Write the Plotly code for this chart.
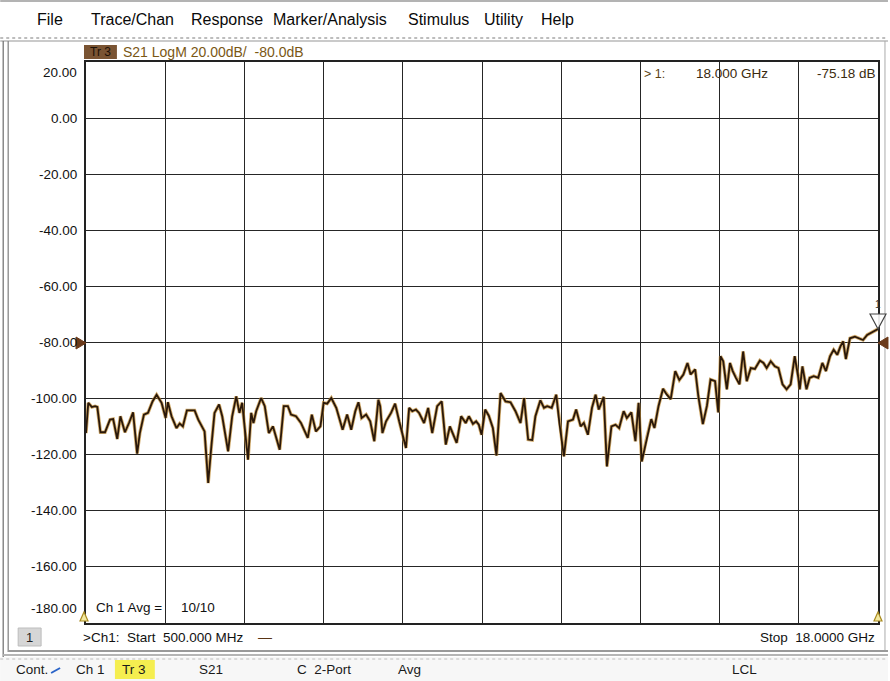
import plotly.graph_objects as go

# ---------------- data ----------------
freq_ghz = [
    0.50, 0.55, 0.63, 0.70, 0.75, 0.82, 0.92, 1.03, 1.10, 1.19, 1.26, 1.36, 1.45, 1.54, 1.63,
    1.69, 1.78, 1.87, 1.97, 2.06, 2.17, 2.26, 2.31, 2.39, 2.50, 2.57, 2.64, 2.73, 2.90, 2.98,
    3.12, 3.20, 3.27, 3.34, 3.44, 3.51, 3.64, 3.73, 3.82, 3.89, 3.95, 4.00, 4.08, 4.15, 4.20,
    4.26, 4.37, 4.45, 4.54, 4.63, 4.74, 4.78, 4.87, 4.96, 5.03, 5.14, 5.25, 5.40, 5.49, 5.58,
    5.68, 5.75, 5.83, 5.92, 6.03, 6.17, 6.27, 6.36, 6.45, 6.52, 6.59, 6.69, 6.78, 6.87, 6.96,
    7.00, 7.05, 7.13, 7.24, 7.33, 7.42, 7.49, 7.57, 7.64, 7.71, 7.79, 7.86, 7.97, 8.06, 8.15,
    8.26, 8.36, 8.45, 8.54, 8.69, 8.79, 8.89, 8.96, 9.05, 9.12, 9.18, 9.24, 9.32, 9.40, 9.49,
    9.57, 9.66, 9.77, 9.88, 9.99, 10.10, 10.18, 10.27, 10.36, 10.43, 10.54, 10.62, 10.69, 10.79, 10.89,
    10.96, 11.06, 11.15, 11.26, 11.33, 11.43, 11.50, 11.59, 11.68, 11.76, 11.83, 11.94, 12.01, 12.11, 12.20,
    12.28, 12.38, 12.45, 12.55, 12.64, 12.71, 12.78, 12.89, 12.99, 13.06, 13.15, 13.25, 13.33, 13.42, 13.52,
    13.61, 13.70, 13.79, 13.86, 13.96, 14.03, 14.13, 14.22, 14.30, 14.40, 14.47, 14.52, 14.58, 14.66, 14.73,
    14.79, 14.86, 14.94, 15.02, 15.10, 15.19, 15.28, 15.39, 15.47, 15.54, 15.63, 15.72, 15.80, 15.89, 15.98,
    16.07, 16.16, 16.24, 16.27, 16.33, 16.42, 16.49, 16.58, 16.68, 16.77, 16.85, 16.94, 17.02, 17.10, 17.17,
    17.23, 17.29, 17.38, 17.49, 17.58, 17.67, 17.76, 17.85, 17.96, 18.00,
]
s21_db = [
    -112.3, -101.5, -103.0, -102.7, -103.0, -112.0, -112.0, -107.5, -107.3, -114.4, -106.3, -112.0, -108.7, -104.9, -119.6,
    -112.3, -105.7, -105.1, -101.0, -98.6, -101.5, -106.9, -101.3, -106.3, -110.5, -108.9, -109.9, -104.2, -104.2, -107.5,
    -111.7, -130.1, -117.0, -105.1, -102.1, -106.3, -118.8, -106.3, -99.2, -105.1, -101.5, -108.7, -121.8, -105.1, -108.7,
    -104.5, -99.8, -102.7, -112.3, -109.9, -116.4, -118.2, -102.7, -102.7, -105.7, -106.3, -108.7, -114.0, -105.7, -111.7,
    -109.9, -101.5, -101.8, -99.8, -103.3, -111.1, -105.7, -111.1, -104.5, -101.3, -106.9, -105.7, -108.1, -115.2, -100.4,
    -102.7, -112.3, -108.1, -105.1, -101.8, -108.1, -112.3, -117.6, -103.3, -104.5, -103.9, -105.1, -108.7, -103.3, -112.3,
    -102.7, -101.0, -116.4, -109.9, -115.8, -106.3, -108.7, -106.3, -109.0, -108.1, -109.3, -112.9, -103.9, -106.1, -110.5,
    -120.3, -98.0, -101.0, -101.3, -104.5, -108.7, -99.8, -114.6, -114.8, -106.3, -100.6, -103.3, -102.7, -103.3, -98.6,
    -108.7, -120.6, -108.1, -107.5, -103.9, -109.9, -108.7, -112.9, -103.3, -98.6, -103.9, -99.4, -124.2, -109.9, -109.3,
    -110.5, -104.5, -106.9, -104.9, -115.2, -101.5, -122.4, -114.0, -107.3, -110.5, -102.7, -96.5, -98.5, -100.2, -90.2,
    -93.4, -91.4, -87.3, -91.4, -89.6, -99.1, -109.1, -102.6, -93.2, -93.8, -104.9, -84.9, -86.7, -96.7, -87.3,
    -90.2, -92.6, -94.9, -83.2, -93.8, -89.1, -89.4, -86.4, -87.3, -89.1, -86.7, -88.5, -89.1, -94.9, -96.7,
    -94.9, -84.9, -92.6, -96.7, -88.5, -96.7, -92.6, -92.0, -92.6, -87.3, -90.2, -84.9, -82.6, -84.4, -81.4,
    -79.6, -85.9, -78.5, -77.9, -78.5, -79.1, -77.3, -76.5, -75.5, -75.18,
]

ytick_vals = [20, 0, -20, -40, -60, -80, -100, -120, -140, -160, -180]
ytick_text = ["20.00", "0.00", "-20.00", "-40.00", "-60.00", "-80.00",
              "-100.00", "-120.00", "-140.00", "-160.00", "-180.00"]

menu_items = ["File", "Trace/Chan", "Response", "Marker/Analysis", "Stimulus", "Utility", "Help"]
status_items = ["Cont.", "Ch 1", "Tr 3", "S21", "C  2-Port", "Avg", "LCL"]

start_text = "500.000 MHz"
stop_text = "18.0000 GHz"
marker_freq = 18.000
marker_db = -75.18
ref_level = -80.0
scale_db = 20.00
avg_text = "10/10"

# ---------------- layout geometry ----------------
W, H = 890, 681
L, R, T, B = 86, 880, 62, 623


def px(X):
    return (X - L) / (R - L)


def py(Y):
    return (B - Y) / (B - T)


FONT = "Liberation Sans, Arial, sans-serif"
NARROW = "Liberation Sans Narrow, Liberation Sans, Arial, sans-serif"

fig = go.Figure()
fig.add_trace(go.Scatter(x=freq_ghz, y=s21_db, mode="lines",
                         line=dict(color="#c08a30", width=3.4), hoverinfo="skip",
                         showlegend=False, opacity=0.7))
fig.add_trace(go.Scatter(x=freq_ghz, y=s21_db, mode="lines",
                         line=dict(color="#2a180a", width=1.8), showlegend=False))

shapes = []
annotations = []


def line(x0, y0, x1, y1, color, width=1, dash="solid"):
    shapes.append(dict(type="line", xref="paper", yref="paper",
                       x0=px(x0), y0=py(y0), x1=px(x1), y1=py(y1),
                       line=dict(color=color, width=width, dash=dash), layer="above"))


def rect(x0, y0, x1, y1, fill, lc=None, lw=0, layer="below"):
    shapes.append(dict(type="rect", xref="paper", yref="paper",
                       x0=px(x0), y0=py(y0), x1=px(x1), y1=py(y1),
                       fillcolor=fill, line=dict(color=lc or fill, width=lw), layer=layer))


def tri(pts, fill, lc, lw=1):
    d = "M " + " L ".join(f"{px(a)},{py(b)}" for a, b in pts) + " Z"
    shapes.append(dict(type="path", xref="paper", yref="paper", path=d,
                       fillcolor=fill, line=dict(color=lc, width=lw), layer="above"))


def text(X, Y, s, size=14, color="#111", anchor="left", family=FONT, bg=None, pad=0):
    annotations.append(dict(xref="paper", yref="paper", x=px(X), y=py(Y), text=s,
                            showarrow=False, xanchor=anchor, yanchor="middle",
                            font=dict(size=size, color=color, family=family),
                            bgcolor=bg, borderpad=pad))


# status bar background
rect(0, 657, W, H, "#f7f7f7")
# frames
line(0, 1, W, 1, "#9a9a9a", 1.5)
line(0, 38, W, 38, "#a8a8a8", 1.5, "dot")
line(0, 41, W, 41, "#b8b8b8", 1.5)
line(3, 41, 3, 657, "#777", 1.3)
line(8, 41, 8, 652, "#888", 1.3)
line(887, 41, 887, 652, "#aaa", 1)
line(8, 651, W, 651, "#9a9a9a", 2.2)
line(3, 655, W, 655, "#b5b5b5", 2)
line(0, 659, W, 659, "#bcbcbc", 1, "dot")

# menu
menu_x = [50, 133, 227, 331, 439, 505, 559]
for s, xc in zip(menu_items, menu_x):
    text(xc, 20, s, size=16, color="#0a0a0a", anchor="center", family=NARROW)

# trace title
rect(84, 45, 117, 59, "#7a5433", layer="above")
text(100.5, 52, "Tr 3", size=12, color="#1c1006", anchor="center")
text(122, 52, f"S21 LogM {scale_db:.2f}dB/  {ref_level:.1f}dB", size=14, color="#7a5714")

# y tick labels
for v, s in zip(ytick_vals, ytick_text):
    yy = B - (v - (-180)) / 200 * (B - T)
    if v == 20:
        yy += 10
    if v == -180:
        yy -= 15
    text(78, yy, s, size=13.5, color="#111", anchor="right")

# marker readout
text(644, 74, "> 1:", size=12.5, color="#5a4210")
text(771, 74, f"{marker_freq:.3f} GHz", size=13.5, color="#3a2a0e", anchor="right")
text(879, 74, f"{marker_db:.2f} dB", size=13.5, color="#3a2a0e", anchor="right")

# reference level triangles
tri([(76, 337), (86, 343), (76, 349)], "#6b3a1a", "#6b3a1a")
tri([(890, 337), (880, 343), (890, 349)], "#6b3a1a", "#6b3a1a")
# marker 1 symbol
tri([(872, 314), (888, 314), (880, 329)], "rgba(255,255,255,0.9)", "#444", 1.2)
text(880, 304, "1", size=10, color="#333", anchor="center")
# start / stop triangles
tri([(80, 621), (88, 621), (84, 612)], "#f3e9a0", "#a88a20", 1.2)
tri([(876, 621), (884, 621), (880, 612)], "#f3e9a0", "#a88a20", 1.2)

# averaging
text(95, 607, "Ch 1 Avg =", size=13.5, color="#111")
text(180, 607, avg_text, size=13.5, color="#111")

# channel line
rect(18, 628, 41, 646, "#d6d6d6", "#bdbdbd", 1)
text(29.5, 637, "1", size=13, color="#222", anchor="center")
text(82, 637, f">Ch1:  Start  {start_text}", size=13.5, color="#111")
text(257, 637, "—", size=14, color="#5a3515")
text(878, 637, f"Stop  {stop_text}", size=13.5, color="#111", anchor="right")

# status bar
rect(115, 660, 155, 679, "#f5ee50")
status_x = [15, 75, 121, 198, 297, 398, 733]
for s, xs in zip(status_items, status_x):
    text(xs, 669, s, size=13.5, color="#1a1a1a", family=NARROW)
line(51, 673, 60, 668, "#2a64c8", 2)

fig.update_layout(
    width=W, height=H, autosize=False,
    margin=dict(l=L, r=W - R, t=T, b=H - B, pad=0),
    paper_bgcolor="white", plot_bgcolor="white",
    showlegend=False,
    shapes=shapes, annotations=annotations,
    xaxis=dict(range=[0.5, 18.0], tick0=0.5, dtick=1.75, showgrid=True,
               gridcolor="#262626", gridwidth=1.3, showticklabels=False, ticks="",
               zeroline=False, showline=True, mirror=True, linecolor="#222", linewidth=1.5),
    yaxis=dict(range=[-180, 20], tick0=-180, dtick=20, showgrid=True,
               gridcolor="#262626", gridwidth=1.3, showticklabels=False, ticks="",
               zeroline=False, showline=True, mirror=True, linecolor="#222", linewidth=1.5),
)

fig.write_html(
    "out.html",
    config={"displayModeBar": False},
    post_script="document.body.style.margin='0';document.body.style.padding='0';"
                "document.body.style.overflow='hidden';",
)
